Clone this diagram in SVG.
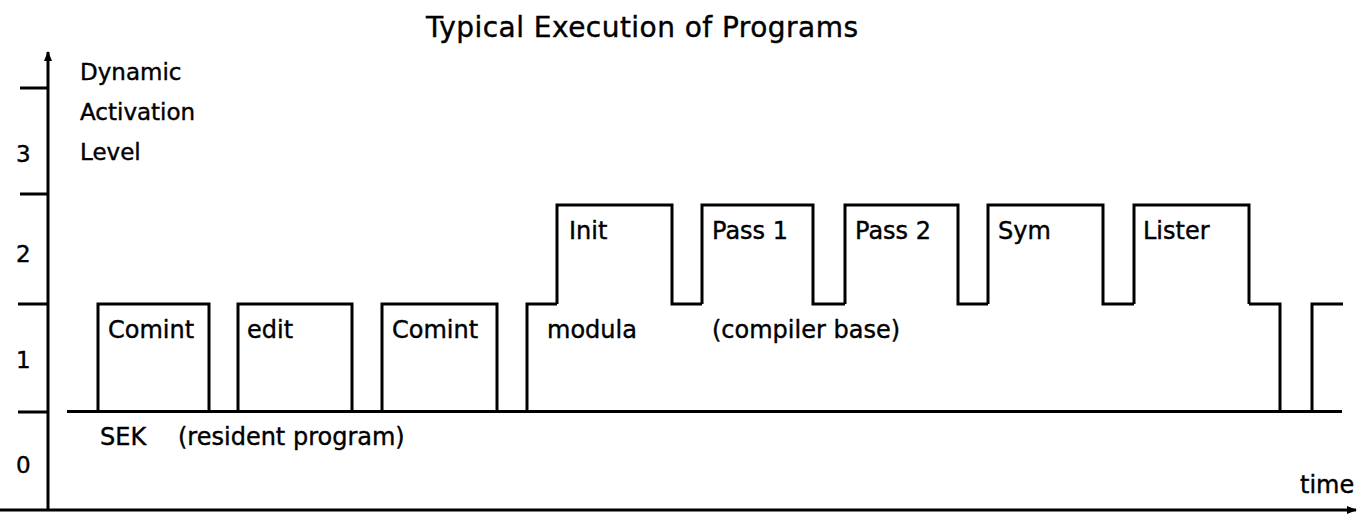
<svg xmlns="http://www.w3.org/2000/svg" width="1370" height="521" viewBox="0 0 1370 521">
<style>
  .t { font-family: "DejaVu Sans", "Liberation Sans", sans-serif; font-size: 24px; fill: #000; stroke: #000; stroke-width: 0.4; }
  .ax { font-family: "DejaVu Sans", "Liberation Sans", sans-serif; font-size: 23px; fill: #000; stroke: #000; stroke-width: 0.4; }
  .title { font-family: "DejaVu Sans", "Liberation Sans", sans-serif; font-size: 28px; fill: #000; stroke: #000; stroke-width: 0.4; }
  .ln { fill: none; stroke: #000; stroke-width: 3; stroke-linejoin: miter; stroke-linecap: butt; }
</style>
<defs>
  <marker id="ah" markerWidth="12" markerHeight="12" refX="9" refY="6" orient="auto" markerUnits="userSpaceOnUse">
    <path d="M0,2 L10,6 L0,10 Z" fill="#000"/>
  </marker>
</defs>
<rect width="1370" height="521" fill="#fff"/>
<text class="title" x="426" y="37" textLength="432" lengthAdjust="spacing">Typical Execution of Programs</text>
<g id="axes">
  <path class="ln" d="M48,510 V52" marker-end="url(#ah)"/>
  <path class="ln" d="M0,510 H1356" marker-end="url(#ah)"/>
  <path class="ln" d="M20,88 H48 M20,194 H48 M18,304 H48 M18,412 H48"/>
  <text class="ax" x="16" y="162">3</text>
  <text class="ax" x="16" y="262">2</text>
  <text class="ax" x="16" y="368">1</text>
  <text class="ax" x="16" y="473">0</text>
  <text class="ax" x="80" y="80">Dynamic</text>
  <text class="ax" x="80" y="120">Activation</text>
  <text class="ax" x="80" y="160">Level</text>
  <text class="t" x="1300" y="493">time</text>
</g>
<g id="connectors">
  <path class="ln" d="M67,411.5 H1342"/>
</g>
<g id="sek">
  <text class="t" x="100" y="445">SEK</text>
  <text class="t" x="178" y="445">(resident program)</text>
</g>
<g id="comint1">
  <path class="ln" d="M98,411.5 V304 H209 V411.5"/>
  <text class="t" x="108" y="338">Comint</text>
</g>
<g id="edit">
  <path class="ln" d="M238,411.5 V304 H352 V411.5"/>
  <text class="t" x="247" y="338">edit</text>
</g>
<g id="comint2">
  <path class="ln" d="M382,411.5 V304 H497 V411.5"/>
  <text class="t" x="392" y="338">Comint</text>
</g>
<g id="modula">
  <path class="ln" d="M527,411.5 V304 H557 M1249,304 H1280 V411.5"/>
  <text class="t" x="547" y="338">modula</text>
  <text class="t" x="712" y="338">(compiler base)</text>
</g>
<g id="init">
  <path class="ln" d="M557,304 V205 H672 V304 H702"/>
  <text class="t" x="569" y="239">Init</text>
</g>
<g id="pass1">
  <path class="ln" d="M702,304 V205 H813 V304 H845"/>
  <text class="t" x="712" y="239">Pass 1</text>
</g>
<g id="pass2">
  <path class="ln" d="M845,304 V205 H958 V304 H988"/>
  <text class="t" x="855" y="239">Pass 2</text>
</g>
<g id="sym">
  <path class="ln" d="M988,304 V205 H1103 V304 H1134"/>
  <text class="t" x="998" y="239">Sym</text>
</g>
<g id="lister">
  <path class="ln" d="M1134,304 V205 H1249 V304"/>
  <text class="t" x="1143" y="239">Lister</text>
</g>
<g id="next">
  <path class="ln" d="M1312,411.5 V304 H1343"/>
</g>
</svg>
